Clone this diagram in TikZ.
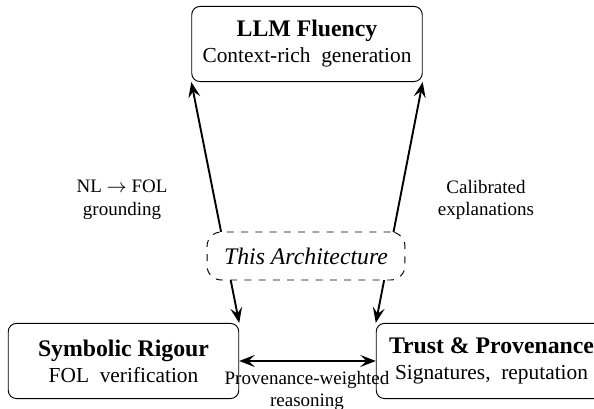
\documentclass[tikz,border=0pt]{standalone}
\usepackage{fontspec}
\setmainfont{Liberation Serif}
\usetikzlibrary{arrows.meta}
\begin{document}
\begin{tikzpicture}[x=0.4209pt,y=-0.4209pt,
  box/.style={draw, rounded corners=3.4pt, align=center, minimum width=97pt, minimum height=31.6pt, inner sep=2pt, fill=white},
  archbox/.style={draw, dashed, rounded corners=6pt, fill=white, minimum width=83.3pt, minimum height=20.2pt, inner sep=2pt, font=\itshape},
  link/.style={thick, {Stealth[length=6.5pt,width=5pt,inset=2.5pt]}-{Stealth[length=6.5pt,width=5pt,inset=2.5pt]}},
  lbl/.style={font=\footnotesize, align=center, inner sep=1pt}]
\useasboundingbox (0,0) rectangle (594,409);
\node[box] (llm) at (307,44) {\textbf{LLM Fluency}\\[-1pt]{\small Context-rich\ \ generation}};
\node[box] (sym) at (123.5,361) {\textbf{Symbolic Rigour}\\[-1pt]{\small FOL\ \ verification}};
\node[box] (trust) at (491.5,361) {\textbf{Trust \& Provenance}\\[-1pt]{\small Signatures,\ \ reputation}};
\draw[link] (sym.north east) -- (llm.south west);
\draw[link] (trust.north west) -- (llm.south east);
\draw[link] (sym.east) -- (trust.west);
\node[archbox] (arch) at (306,256) {This Architecture};
\node[lbl] (l1) at (122,200) {NL $\rightarrow$ FOL\\grounding};
\node[lbl] (l2) at (486,200) {Calibrated\\explanations};
\node[lbl] (l3) at (307,391) {Provenance-weighted\\reasoning};
\end{tikzpicture}
\end{document}
